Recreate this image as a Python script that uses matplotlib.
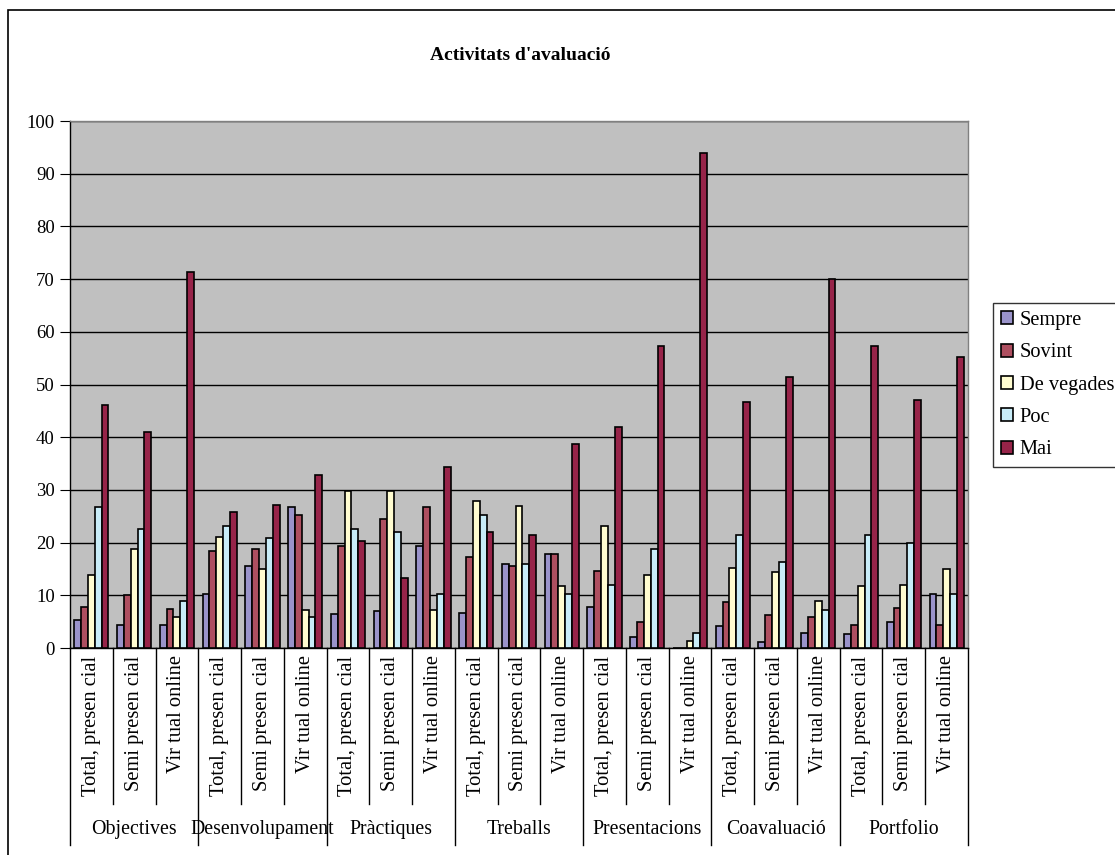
import numpy as np
import matplotlib
matplotlib.use("Agg")
import matplotlib.pyplot as plt
from matplotlib.patches import Rectangle

plt.rcParams['font.family'] = ['Liberation Serif', 'DejaVu Serif']

categories = ["Objectives", "Desenvolupament", "Pràctiques", "Treballs",
              "Presentacions", "Coavaluació", "Portfolio"]
modes = ["Total, presen cial", "Semi presen cial", "Vir tual online"]
series = ["Sempre", "Sovint", "De vegades", "Poc", "Mai"]
colors = ["#9A93CA", "#AE4F60", "#FFFCD0", "#C8ECF8", "#972449"]

sempre = [5.3, 4.3, 4.3, 10.2, 15.6, 26.8, 6.4, 7.0, 19.4, 6.7, 15.9, 17.9,
          7.7, 2.0, 0.0, 4.1, 1.1, 2.9, 2.6, 5.0, 10.3]
sovint = [7.7, 10.0, 7.4, 18.5, 18.8, 25.3, 19.4, 24.4, 26.8, 17.3, 15.6, 17.9,
          14.6, 5.0, 0.0, 8.8, 6.2, 5.9, 4.3, 7.6, 4.3]
vegades = [13.8, 18.8, 5.9, 21.1, 15.0, 7.3, 29.7, 29.7, 7.2, 27.9, 27.0, 11.8,
           23.2, 13.8, 1.3, 15.2, 14.4, 9.0, 11.8, 12.0, 15.0]
poc = [26.7, 22.6, 9.0, 23.2, 20.9, 5.8, 22.6, 22.0, 10.2, 25.3, 15.9, 10.2,
       12.0, 18.8, 2.8, 21.4, 16.4, 7.3, 21.4, 20.0, 10.3]
mai = [46.2, 40.9, 71.3, 25.9, 27.1, 32.9, 20.3, 13.2, 34.3, 22.0, 21.4, 38.7,
       42.0, 57.3, 94.0, 46.7, 51.4, 70.0, 57.3, 47.0, 55.3]

data = [sempre, sovint, vegades, poc, mai]

fig = plt.figure(figsize=(11.15, 8.55), dpi=100)
ax = fig.add_axes([70/1115, 1-648/855, 898/1115, 527/855])
ax.set_facecolor("#C0C0C0")

n = len(sempre)
x = np.arange(n)
w = 0.16
for i in range(5):
    ax.bar(x - 2*w + i*w, data[i], w, color=colors[i], edgecolor="black",
           linewidth=1.2, label=series[i], zorder=3)

ax.set_xlim(-0.5, n - 0.5)
ax.set_ylim(0, 100)
ax.set_yticks(range(0, 101, 10))
ax.tick_params(axis='y', labelsize=13.5, length=7, pad=4, direction='out')
ax.yaxis.grid(True, color="black", linewidth=1, zorder=1)
ax.set_xticks([])
for s in ax.spines.values():
    s.set_linewidth(1)
ax.spines['top'].set_color("#808080")
ax.spines['right'].set_color("#808080")

# sub labels and separators
trans = ax.get_xaxis_transform()
for k in range(n):
    ax.text(k, -0.014, modes[k % 3], rotation=90, ha='center', va='top',
            fontsize=14.8, transform=trans)
for k in range(n + 1):
    bottom = -0.374 if k % 3 == 0 else -0.296
    ax.plot([k - 0.5, k - 0.5], [0, bottom], color="black", linewidth=1,
            transform=trans, clip_on=False)
for c in range(len(categories)):
    ax.text(3*c + 1, -0.345, categories[c], ha='center', va='center',
            fontsize=14.3, transform=trans)

fig.text(520/1115, 1 - 55/855, "Activitats d'avaluació", ha='center',
         va='center', fontsize=14, fontweight='bold')

fig.legend(loc='upper left', bbox_to_anchor=(993/1115, 1-303/855),
           frameon=True, fancybox=False, edgecolor="black", fontsize=14.7,
           handlelength=0.6, handleheight=0.6, handletextpad=0.3,
           borderpad=0.4, labelspacing=0.65, borderaxespad=0)
leg = fig.legends[0]
leg.get_frame().set_linewidth(1)

# outer chart border
fig.patches.append(Rectangle((8/1115, -0.05), 1.2, 1 - 10/855 + 0.05,
                             transform=fig.transFigure, fill=False,
                             edgecolor="black", linewidth=1.2))

fig.savefig("out.png", dpi=100)
